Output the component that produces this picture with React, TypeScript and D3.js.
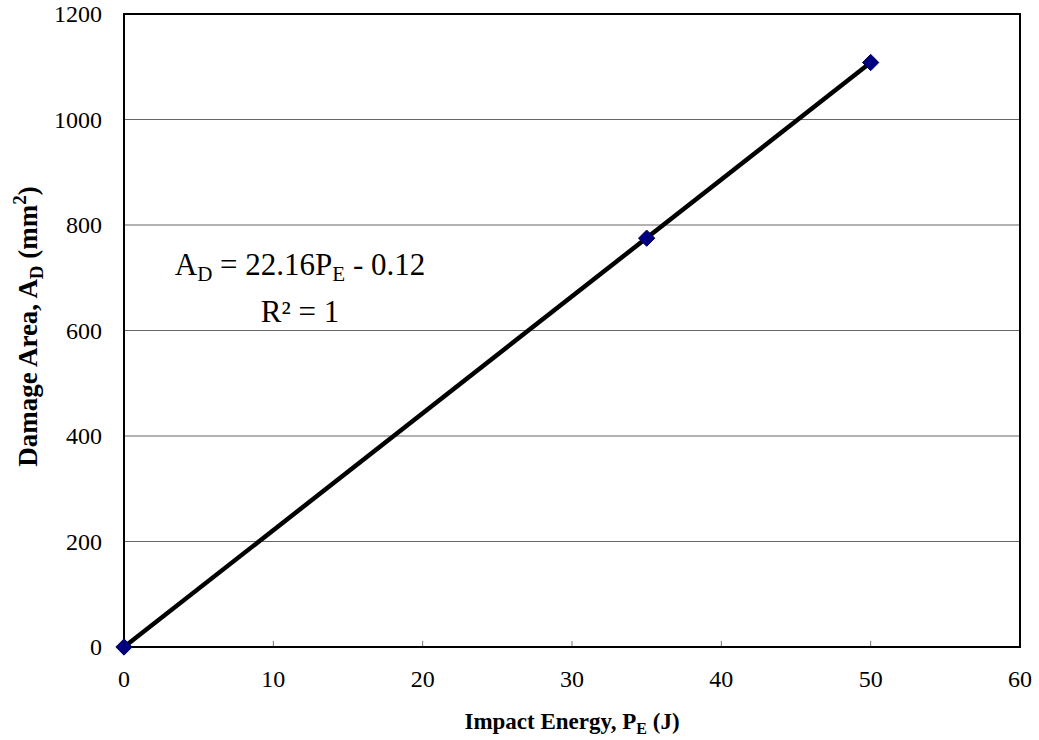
import React from "react";
import * as d3 from "d3";

// Measured damage area vs. impact energy
const energy = [0, 35, 50];
const damageArea = [0, 775, 1108];
const xTicks = [0, 10, 20, 30, 40, 50, 60];
const yTicks = [0, 200, 400, 600, 800, 1000, 1200];
const slope = 22.16;
const intercept = -0.12;

const W = 1039;
const H = 740;
const M = { left: 124, right: 1020, top: 14, bottom: 647 };
const FONT = "'Liberation Serif', 'Times New Roman', serif";

export default function App() {
  const x = d3.scaleLinear().domain([0, 60]).range([M.left, M.right]);
  const y = d3.scaleLinear().domain([0, 1200]).range([M.bottom, M.top]);

  const fitX = [d3.min(energy)!, d3.max(energy)!];
  const fitLine = d3
    .line<number>()
    .x((e) => x(e))
    .y((e) => y(slope * e + intercept))(fitX);

  const diamond = d3.symbol().type(d3.symbolDiamond2).size(170)();

  return (
    <svg
      width={W}
      height={H}
      style={{ position: "absolute", left: 0, top: 0, background: "#fff", fontFamily: FONT }}
    >
      {/* horizontal gridlines */}
      {yTicks.slice(1, -1).map((t) => (
        <line
          key={t}
          x1={M.left}
          x2={M.right}
          y1={y(t)}
          y2={y(t)}
          stroke="#666"
          strokeWidth={1}
        />
      ))}

      {/* inner tick marks on the x axis */}
      {xTicks.slice(1, -1).map((t) => (
        <line
          key={t}
          x1={x(t)}
          x2={x(t)}
          y1={M.bottom}
          y2={M.bottom - 6}
          stroke="#777"
          strokeWidth={1}
        />
      ))}

      {/* plot frame */}
      <rect
        x={M.left}
        y={M.top}
        width={M.right - M.left}
        height={M.bottom - M.top}
        fill="none"
        stroke="#000"
        strokeWidth={2}
      />

      {/* tick labels */}
      {yTicks.map((t) => (
        <text
          key={t}
          x={M.left - 22}
          y={y(t)}
          dy="0.35em"
          textAnchor="end"
          fontSize={24}
        >
          {t}
        </text>
      ))}
      {xTicks.map((t) => (
        <text
          key={t}
          x={x(t)}
          y={M.bottom + 40}
          textAnchor="middle"
          fontSize={24}
        >
          {t}
        </text>
      ))}

      {/* fitted line */}
      <path d={fitLine!} fill="none" stroke="#000" strokeWidth={4.5} />

      {/* data markers */}
      {energy.map((e, i) => (
        <path
          key={i}
          d={diamond!}
          transform={`translate(${x(e)},${y(damageArea[i])})`}
          fill="#000080"
          stroke="#000060"
          strokeWidth={1}
        />
      ))}

      {/* regression annotation */}
      <text x={300} y={275} textAnchor="middle" fontSize={31}>
        A<tspan fontSize={21} dy={6}>D</tspan>
        <tspan dy={-6}> = 22.16P</tspan>
        <tspan fontSize={21} dy={6}>E</tspan>
        <tspan dy={-6}> - 0.12</tspan>
      </text>
      <text x={300} y={322} textAnchor="middle" fontSize={31}>
        R² = 1
      </text>

      {/* axis titles */}
      <text
        x={(M.left + M.right) / 2}
        y={729}
        textAnchor="middle"
        fontSize={23}
        fontWeight="bold"
      >
        Impact Energy, P<tspan fontSize={16} dy={5}>E</tspan>
        <tspan dy={-5}> (J)</tspan>
      </text>
      <text
        transform={`translate(37,${(M.top + M.bottom) / 2 - 4}) rotate(-90)`}
        textAnchor="middle"
        fontSize={27}
        fontWeight="bold"
      >
        Damage Area, A<tspan fontSize={19} dy={6}>D</tspan>
        <tspan dy={-6}> (mm</tspan>
        <tspan fontSize={19} dy={-11}>2</tspan>
        <tspan dy={11}>)</tspan>
      </text>
    </svg>
  );
}
